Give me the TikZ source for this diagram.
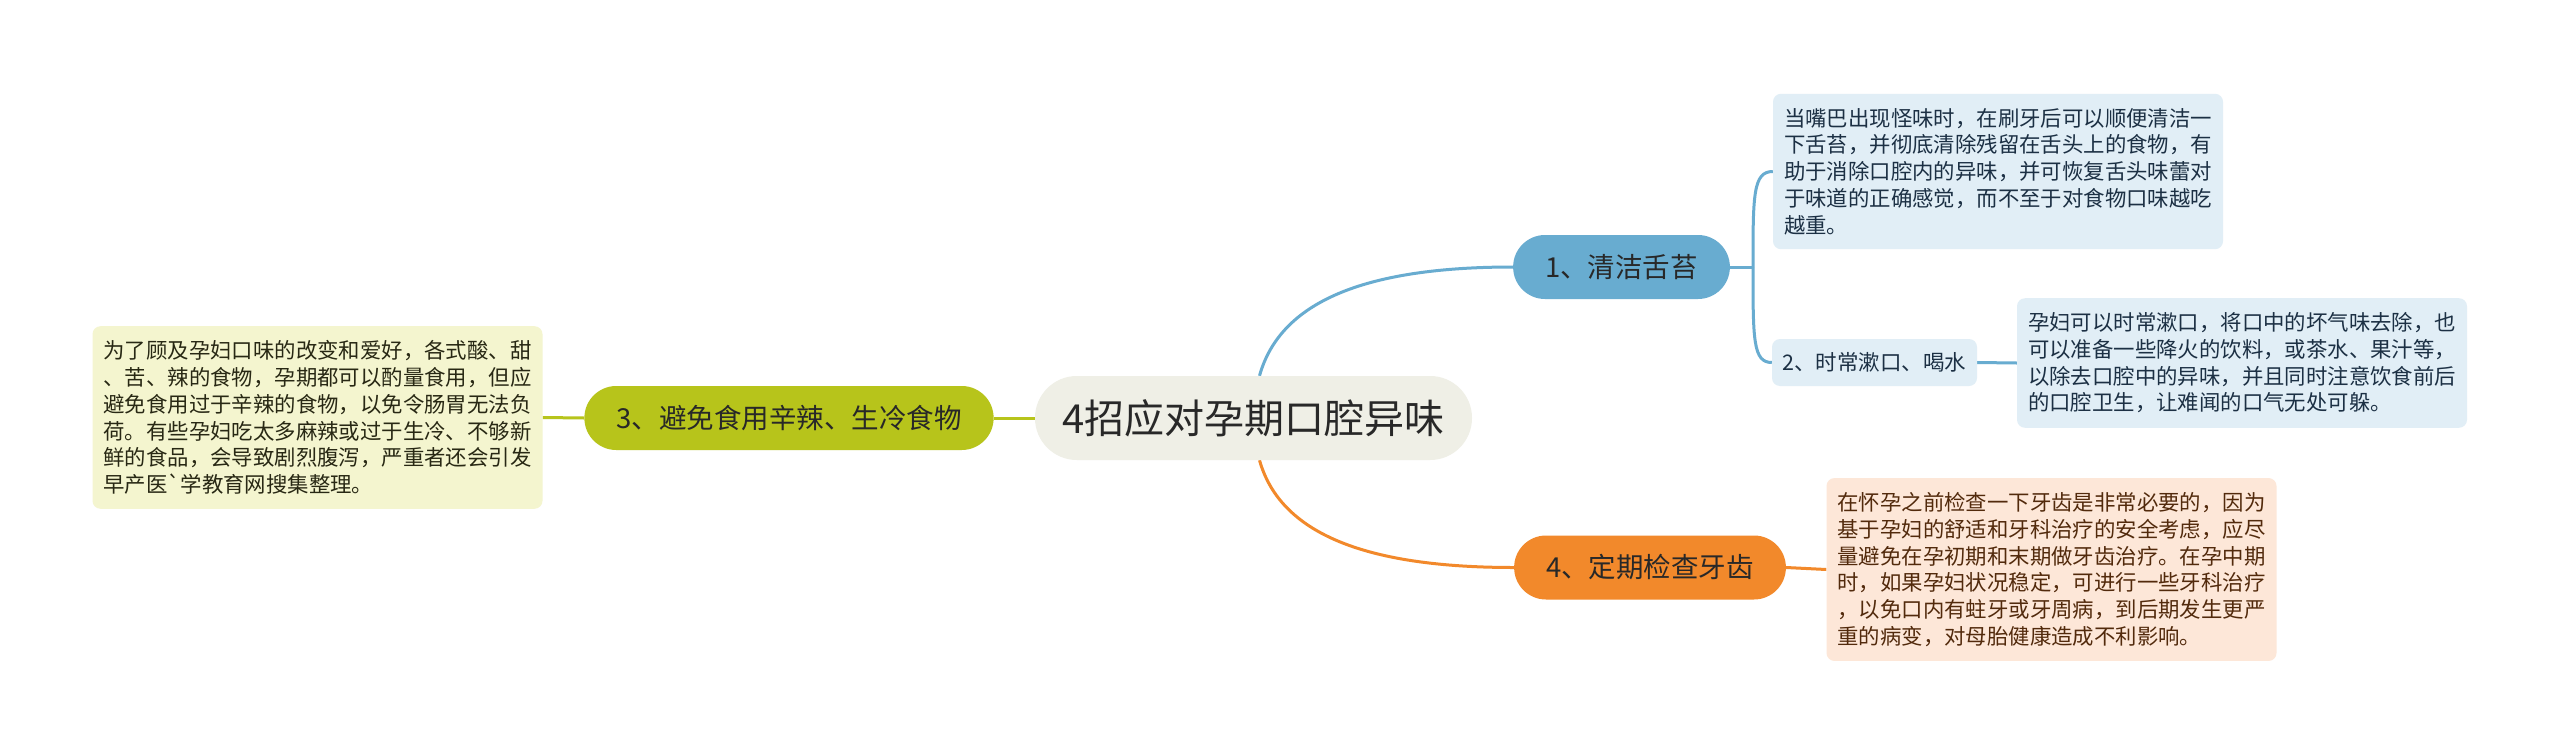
\documentclass[tikz,border=0pt]{standalone}
\usepackage{fontspec}
\setmainfont{Noto Sans CJK SC}[Ligatures=TeXOff]
\usetikzlibrary{backgrounds}
\definecolor{cRoot}{RGB}{239,239,230}
\definecolor{cText}{RGB}{40,40,40}
\definecolor{cBlue}{RGB}{104,172,208}
\definecolor{cBlueBox}{RGB}{225,238,246}
\definecolor{cBlueText}{RGB}{28,48,68}
\definecolor{cOrange}{RGB}{242,137,43}
\definecolor{cPeach}{RGB}{253,231,216}
\definecolor{cBrown}{RGB}{82,42,12}
\definecolor{cOlive}{RGB}{183,196,27}
\definecolor{cYellowBox}{RGB}{244,245,207}
\definecolor{cOliveText}{RGB}{40,40,20}
\tikzset{
  rootnode/.style={fill=cRoot, rounded corners=41.9pt, minimum height=84pt, minimum width=437pt, inner xsep=0pt, text=cText, font=\fontsize{40}{48}\selectfont},
  topic/.style={rounded corners=31.9pt, minimum height=64pt, inner xsep=32pt, text=cText, font=\fontsize{27.5}{33}\selectfont},
  note/.style={rounded corners=8pt, text width=428pt, inner xsep=11pt, inner ysep=14.5pt, align=left, font=\fontsize{21.4}{26.7}\selectfont},
  subnode/.style={rounded corners=8pt, minimum height=47pt, minimum width=205pt, inner xsep=0pt, fill=cBlueBox, text=cBlueText, font=\fontsize{21.5}{26}\selectfont},
  link/.style={line width=3pt},
}
\begin{document}
\begin{tikzpicture}[x=1pt,y=-1pt]
\useasboundingbox (0,0) rectangle (2560,755);

\node[rootnode] (root) at (1253.5,418) {4招应对孕期口腔异味};

\node[topic, fill=cOlive] (n3) at (789,418) {3、避免食用辛辣、生冷食物};
\node[note, fill=cYellowBox, text=cOliveText] (lbox) at (317.5,417.5) {为了顾及孕妇口味的改变和爱好，各式酸、甜\\
、苦、辣的食物，孕期都可以酌量食用，但应\\
避免食用过于辛辣的食物，以免令肠胃无法负\\
荷。有些孕妇吃太多麻辣或过于生冷、不够新\\
鲜的食品，会导致剧烈腹泻，严重者还会引发\\
早产医\symbol{96}学教育网搜集整理。};

\node[topic, fill=cBlue] (n1) at (1621.5,267) {1、清洁舌苔};
\node[note, fill=cBlueBox, text=cBlueText] (box1) at (1998,171.5) {当嘴巴出现怪味时，在刷牙后可以顺便清洁一\\
下舌苔，并彻底清除残留在舌头上的食物，有\\
助于消除口腔内的异味，并可恢复舌头味蕾对\\
于味道的正确感觉，而不至于对食物口味越吃\\
越重。};
\node[subnode] (n2) at (1874.5,362.5) {2、时常漱口、喝水};
\node[note, fill=cBlueBox, text=cBlueText] (box2) at (2242,363) {孕妇可以时常漱口，将口中的坏气味去除，也\\
可以准备一些降火的饮料，或茶水、果汁等，\\
以除去口腔中的异味，并且同时注意饮食前后\\
的口腔卫生，让难闻的口气无处可躲。};

\node[topic, fill=cOrange] (n4) at (1650,567.5) {4、定期检查牙齿};
\node[note, fill=cPeach, text=cBrown] (box4) at (2051.5,569.5) {在怀孕之前检查一下牙齿是非常必要的，因为\\
基于孕妇的舒适和牙科治疗的安全考虑，应尽\\
量避免在孕初期和末期做牙齿治疗。在孕中期\\
时，如果孕妇状况稳定，可进行一些牙科治疗\\
，以免口内有蛀牙或牙周病，到后期发生更严\\
重的病变，对母胎健康造成不利影响。};

\coordinate (j) at (1753,267);

\begin{pgfonlayer}{background}
\fill[white] (0,0) rectangle (2560,755);
\draw[link, cOlive] (root.west) -- (n3.east);
\draw[link, cOlive] (n3.west) -- (lbox.east);
\draw[link, cBlue] ([xshift=6pt]root.north) .. controls (1280,302) and (1364,267) .. (n1.west);
\draw[link, cOrange] ([xshift=6pt]root.south) .. controls (1280,533) and (1364,567.5) .. (n4.west);
\draw[link, cBlue] (n1.east) -- (j);
\draw[link, cBlue] (j) .. controls (1753,195) and (1753,171.5) .. (box1.west);
\draw[link, cBlue] (j) .. controls (1753,340) and (1753,362.5) .. (n2.west);
\draw[link, cBlue] (n2.east) -- (box2.west);
\draw[link, cOrange] (n4.east) -- (box4.west);
\end{pgfonlayer}
\end{tikzpicture}
\end{document}
